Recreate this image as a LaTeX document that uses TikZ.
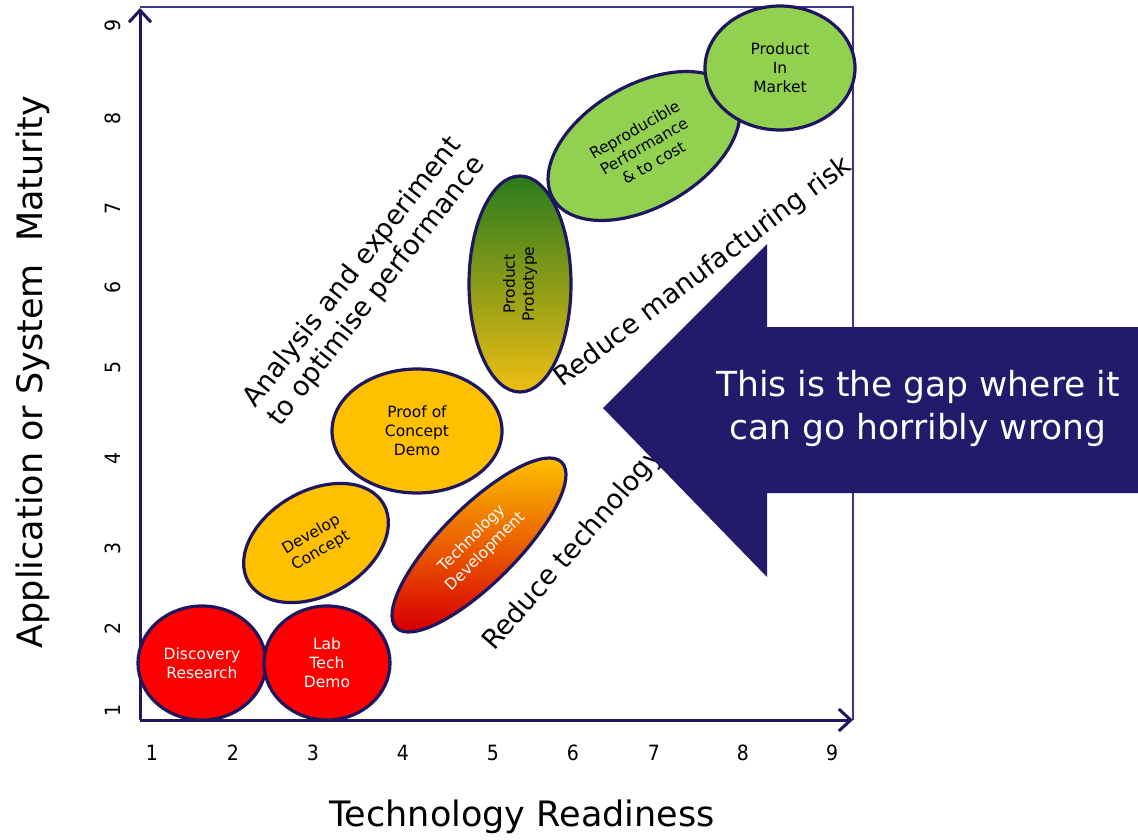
\documentclass[tikz,border=0pt]{standalone}
\usepackage{fontspec}
\setmainfont{DejaVu Sans}
\newfontfamily\condfont{DejaVu Sans Condensed}
\usetikzlibrary{shapes.geometric,arrows.meta}
\definecolor{navy}{HTML}{1E1760}
\definecolor{framec}{HTML}{3A3590}
\definecolor{arrowc}{HTML}{221A6B}
\definecolor{redf}{HTML}{FF0000}
\definecolor{orf}{HTML}{FFC000}
\definecolor{grf}{HTML}{92D050}
\definecolor{protop}{HTML}{2A7A1E}
\definecolor{promid}{HTML}{A3BA7A}
\definecolor{probot}{HTML}{EEBE12}
\tikzset{
  blob/.style={ellipse, draw=navy, line width=3.2pt, inner sep=0pt, align=center, font=\fontsize{15.5}{19}\selectfont},
  axisline/.style={navy, line width=3pt, -{Straight Barb[length=12pt,width=22pt]}},
  tick/.style={font=\condfont\fontsize{21}{21}\selectfont},
  diag/.style={font=\fontsize{27}{31}\selectfont, align=center, inner sep=0pt},
  title/.style={font=\fontsize{35}{37}\selectfont}
}
\begin{document}
\begin{tikzpicture}[x=1pt,y=-1pt]
\useasboundingbox (0,0) rectangle (1138,839);
% frame
\coordinate (tl) at (140,7);
\coordinate (tr) at (853,7);
\coordinate (br) at (853,720);
\draw[framec, line width=1.5pt] (tl) -- (tr) -- (br);
% axes
\coordinate (o) at (140,720);
\coordinate (ytip) at (140,8);
\coordinate (xtip) at (853,720);
\draw[axisline] (o) -- (ytip);
\draw[axisline] (o) -- (xtip);
% ticks
\foreach \v/\px in {1/152,2/233,3/313,4/403,5/493,6/573,7/654,8/743,9/832}
  \node[tick] (xt\v) at (\px,753) {\v};
\foreach \v/\py in {1/710,2/628,3/548,4/458,5/367,6/287,7/208,8/118,9/25}
  \node[tick, rotate=90] (yt\v) at (113,\py) {\v};
% titles
\node[title] (xtitle) at (522,817) {Technology Readiness};
\node[title, rotate=90] (ytitle) at (33,372) {Application or System\ \ Maturity};
% diagonal labels
\node[diag, rotate=52] (anal) at (365,282) {Analysis and experiment\\to optimise performance};
\node[diag, rotate=37, anchor=base west] (manuf) at (562,388) {Reduce manufacturing risk};
\node[diag, rotate=49, anchor=base west] (techrisk) at (494,652) {Reduce technology risk};
% ellipses
\node[blob, fill=redf, text=white, minimum width=128pt, minimum height=114pt] (disc) at (202,663) {Discovery\\Research};
\node[blob, fill=redf, text=white, minimum width=126pt, minimum height=114pt] (lab) at (327,663) {Lab\\Tech\\Demo};
\node[blob, fill=orf, rotate=30, minimum width=156pt, minimum height=104pt] (dev) at (316,543) {Develop\\Concept};
\node[blob, rotate=45, top color=orf!80!yellow, middle color=orange!55!red, bottom color=red!85!black, text=white, minimum width=234pt, minimum height=76pt] (tech) at (479,545) {Technology\\Development};
\node[blob, fill=orf, minimum width=170pt, minimum height=124pt] (proof) at (417,431) {Proof of\\Concept\\Demo};
\node[blob, top color=protop, middle color=promid, bottom color=probot, minimum width=102pt, minimum height=216pt] (proto) at (520,284) {};
\node[rotate=90, align=center, font=\fontsize{15.5}{19}\selectfont] (protot) at (proto) {Product\\Prototype};
\node[blob, fill=grf, rotate=30, minimum width=210pt, minimum height=122pt] (repro) at (644,146) {Reproducible\\Performance\\\& to cost};
\node[blob, fill=grf, minimum width=150pt, minimum height=124pt] (market) at (780,68) {Product\\In\\Market};
% big arrow
\fill[arrowc] (603,408) -- (767,244) -- (767,327) -- (1140,327) -- (1140,493) -- (767,493) -- (767,577) -- cycle;
\node[white, align=center, font=\fontsize{34.5}{43}\selectfont] (gap) at (918,408) {This is the gap where it\\can go horribly wrong};
\end{tikzpicture}
\end{document}
